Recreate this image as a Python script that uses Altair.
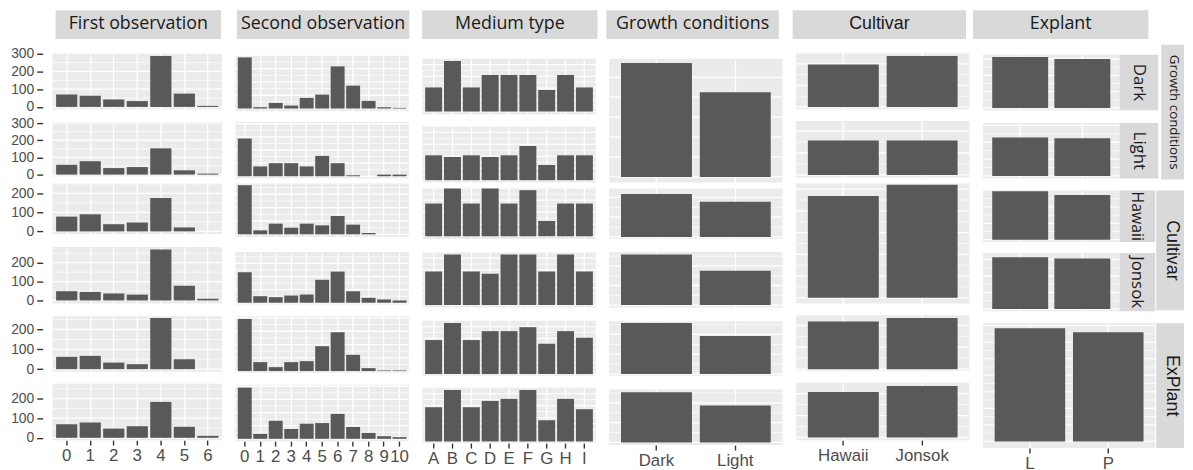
import altair as alt
import pandas as pd

# ---------------- categories ----------------
first_cats = ["0", "1", "2", "3", "4", "5", "6"]
second_cats = ["0", "1", "2", "3", "4", "5", "6", "7", "8", "9", "10"]
medium_cats = ["A", "B", "C", "D", "E", "F", "G", "H", "I"]
growth_cats = ["Dark", "Light"]
cultivar_cats = ["Hawaii", "Jonsok"]
explant_cats = ["L", "P"]

# ---------------- First observation (counts) ----------------
first_dark = [70, 63, 42, 33, 287, 75, 6]
first_light = [57, 78, 38, 44, 153, 25, 6]
first_hawaii = [78, 90, 38, 47, 176, 21, 0]
first_jonsok = [49, 45, 37, 31, 270, 78, 9]
first_L = [62, 67, 33, 25, 258, 50, 0]
first_P = [69, 78, 47, 59, 183, 56, 10]

# ---------------- Second observation ----------------
second_dark = [154, 4, 17, 9, 32, 42, 127, 69, 23, 4, 2]
second_light = [115, 30, 40, 40, 30, 62, 40, 3, 0, 5, 5]
second_hawaii = [147, 12, 32, 20, 32, 27, 55, 29, 4, 0, 0]
second_jonsok = [93, 20, 17, 22, 25, 70, 95, 35, 15, 10, 7]
second_L = [157, 27, 12, 27, 30, 75, 117, 49, 9, 2, 2]
second_P = [156, 15, 55, 30, 46, 48, 76, 36, 18, 8, 5]

# ---------------- Medium type ----------------
medium_dark = [74, 155, 74, 112, 112, 112, 66, 112, 74]
medium_light = [75, 70, 75, 70, 75, 103, 46, 75, 75]
medium_hawaii = [98, 143, 98, 143, 98, 138, 46, 98, 98]
medium_jonsok = [103, 155, 103, 96, 155, 155, 103, 155, 103]
medium_L = [103, 155, 103, 130, 130, 142, 92, 130, 110]
medium_P = [103, 155, 103, 122, 128, 155, 64, 128, 97]

# ---------------- Growth conditions ----------------
growth_darklight = [343, 255]
growth_hawaii = [130, 107]
growth_jonsok = [155, 105]
growth_L = [155, 115]
growth_P = [152, 112]

# ---------------- Cultivar ----------------
cultivar_dark = [130, 156]
cultivar_light = [104, 104]
cultivar_hawaiijonsok = [309, 343]
cultivar_L = [143, 154]
cultivar_P = [137, 155]

# ---------------- Explant ----------------
explant_dark = [156, 150]
explant_light = [114, 112]
explant_hawaii = [148, 136]
explant_jonsok = [157, 153]
explant_LP = [342, 330]

# ---------------- texts ----------------
header_labels = ["First observation", "Second observation", "Medium type",
                 "Growth conditions", "Cultivar", "Explant"]

BAR = "#595959"
PANEL = "#EBEBEB"
STRIP = "#D9D9D9"
TXT = "#1a1a1a"
AX = "#4d4d4d"
X0 = 52.35       # page x of the first panel's left edge
BODY_TOP = 43    # page y where the body starts


def grid_values(top, step):
    out = []
    k = 0
    while k * step <= top + 1e-9:
        out.append((k * step, k % 2 == 0))
        k += 1
    return out


def panel(cats, vals, w, h, domain, step, alternate=True, bottom=False, yticks=None):
    df = pd.DataFrame({"cat": cats, "v": vals})
    ysc = alt.Scale(domain=list(domain), nice=False, zero=False)
    gv = grid_values(domain[1] - 1, step)
    major = [g for g, m in gv if m or not alternate]
    minor = [g for g, m in gv if alternate and not m]
    if yticks:
        yaxis = alt.Axis(
            values=yticks, title=None, grid=False, domain=False, offset=10,
            tickSize=6, tickColor="#333333", tickWidth=1.4, labelFontSize=14,
            labelFont="Liberation Sans", labelColor=AX, labelPadding=3,
        )
    else:
        yaxis = None
    layers = []
    if minor:
        layers.append(
            alt.Chart(pd.DataFrame({"g": minor}))
            .mark_rule(color="white", strokeWidth=0.7)
            .encode(y=alt.Y("g:Q", scale=ysc, axis=yaxis))
        )
    layers.append(
        alt.Chart(pd.DataFrame({"g": major}))
        .mark_rule(color="white", strokeWidth=1.3)
        .encode(y=alt.Y("g:Q", scale=ysc, axis=yaxis))
    )
    xaxis = alt.Axis(
        title=None, labels=bottom, ticks=bottom, domain=False, grid=True,
        gridColor="white", gridWidth=1.3, bandPosition=0.5, labelAngle=0,
        labelFontSize=17, labelFont="Liberation Sans", labelColor=AX,
        labelPadding=2.5, labelOverlap=False, tickColor="#333333", tickSize=5,
        tickWidth=1.4,
    )
    bars = alt.Chart(df).mark_bar(color=BAR).encode(
        x=alt.X("cat:N", sort=cats, axis=xaxis,
                scale=alt.Scale(paddingInner=0.1, paddingOuter=0.15)),
        y=alt.Y("v:Q", scale=ysc, axis=yaxis),
    )
    layers.append(bars)
    return alt.layer(*layers).properties(
        width=w, height=h, view=alt.ViewBackground(fill=PANEL, strokeWidth=0)
    )


def strip(label, w, h, size=18, font="Open Sans", angle=0, tx=None):
    df = pd.DataFrame({"t": [label]})
    return (
        alt.Chart(df)
        .mark_text(fontSize=size, font=font, color=TXT, angle=angle)
        .encode(text="t:N", x=alt.value(w / 2 if tx is None else tx), y=alt.value(h / 2))
        .properties(width=w, height=h,
                    view=alt.ViewBackground(fill=STRIP, strokeWidth=0))
    )


def spacer(w, h):
    return (
        alt.Chart(pd.DataFrame({"t": [""]}))
        .mark_text()
        .encode(text="t:N")
        .properties(width=w, height=h, view=alt.ViewBackground(strokeWidth=0))
    )


def column(w, items):
    parts = []
    y = BODY_TOP
    for top, ch in items:
        if top - y > 0:
            parts.append(spacer(w, top - y))
        parts.append(ch[0])
        y = ch[1]
    return alt.vconcat(*parts, spacing=0, bounds="flush")


def P(cats, vals, w, top, bottom_y, domain, step, **kw):
    return (top, (panel(cats, vals, w, bottom_y - top, domain, step, **kw), bottom_y))


# ---------------- column 1 : First observation ----------------
W1 = 171
col1 = column(W1, [
    P(first_cats, first_dark, W1, 52, 108, (-13, 300), 50, yticks=[0, 100, 200, 300]),
    P(first_cats, first_light, W1, 121, 176, (-11.5, 305.7), 50, yticks=[0, 100, 200, 300]),
    P(first_cats, first_hawaii, W1, 183, 234, (-13.9, 252), 50, yticks=[0, 100, 200]),
    P(first_cats, first_jonsok, W1, 247, 304, (-15.7, 283.5), 50, yticks=[0, 100, 200]),
    P(first_cats, first_L, W1, 317, 373, (-13.3, 266.7), 50, yticks=[0, 100, 200]),
    P(first_cats, first_P, W1, 385, 442, (-11.9, 276), 50, yticks=[0, 100, 200], bottom=True),
])

# ---------------- column 2 : Second observation ----------------
W = 175
col2 = column(W, [
    P(second_cats, second_dark, W, 53, 110, (-8, 162), 20),
    P(second_cats, second_light, W, 121, 178, (-7, 165), 20),
    P(second_cats, second_hawaii, W, 183, 237, (-8, 152), 20),
    P(second_cats, second_jonsok, W, 252, 305, (-5, 155), 20),
    P(second_cats, second_L, W, 317, 374, (-5, 165), 20),
    P(second_cats, second_P, W, 386, 443, (-7, 165), 20, bottom=True),
])

# ---------------- column 3 : Medium type ----------------
col3 = column(W, [
    P(medium_cats, medium_dark, W, 57, 113, (-8, 162), 18),
    P(medium_cats, medium_light, W, 125, 182, (-7, 163), 18),
    P(medium_cats, medium_hawaii, W, 187, 239, (-8, 146), 18),
    P(medium_cats, medium_jonsok, W, 252, 308, (-7, 163), 18),
    P(medium_cats, medium_L, W, 321, 377, (-5, 163), 18),
    P(medium_cats, medium_P, W, 389, 445, (-5, 162), 18, bottom=True),
])

# ---------------- column 4 : Growth conditions ----------------
col4 = column(W, [
    P(growth_cats, growth_darklight, W, 57, 182, (-17, 356), 60, alternate=False),
    P(growth_cats, growth_hawaii, W, 188, 239, (-6, 147), 30),
    P(growth_cats, growth_jonsok, W, 252, 308, (-7, 163), 30),
    P(growth_cats, growth_L, W, 322, 377, (-5, 160), 30),
    P(growth_cats, growth_P, W, 391, 447, (-8, 160), 30, bottom=True),
])

# ---------------- column 5 : Cultivar ----------------
col5 = column(W, [
    P(cultivar_cats, cultivar_dark, W, 51, 108, (-7, 166), 33),
    P(cultivar_cats, cultivar_light, W, 120, 177, (-8, 162), 33),
    P(cultivar_cats, cultivar_hawaiijonsok, W, 183, 304, (-17, 347), 33),
    P(cultivar_cats, cultivar_L, W, 316, 372, (-5, 162), 33),
    P(cultivar_cats, cultivar_P, W, 384, 442, (-8, 165), 33, bottom=True),
])

# ---------------- column 6 : Explant + row strips ----------------
W6 = 138
blockA_left = alt.vconcat(
    spacer(177, 52 - 43),
    alt.hconcat(panel(explant_cats, explant_dark, W6, 56, (-7, 163), 25),
                strip("Dark", 39, 56, size=17, angle=90), spacing=0, bounds="flush"),
    spacer(177, 121 - 108),
    alt.hconcat(panel(explant_cats, explant_light, W6, 56, (-8, 157), 25),
                strip("Light", 39, 56, size=17, angle=90), spacing=0, bounds="flush"),
    spacing=0,
)
blockA = alt.hconcat(blockA_left,
                     strip("Growth conditions", 23, 136, size=13.5, angle=90, tx=13),
                     spacing=3)
blockB_left = alt.vconcat(
    alt.hconcat(panel(explant_cats, explant_hawaii, W6, 52, (-7, 150), 25),
                strip("Hawaii", 36, 52, size=16, angle=90), spacing=0, bounds="flush"),
    spacer(174, 245 - 235),
    alt.hconcat(panel(explant_cats, explant_jonsok, W6, 59, (-7, 170), 25),
                strip("Jonsok", 36, 59, size=17, angle=90), spacing=0, bounds="flush"),
    spacing=0,
)
blockB = alt.hconcat(blockB_left,
                     strip("Cultivar", 28, 121, size=18, font="Liberation Sans", angle=90, tx=16),
                     spacing=1)
blockC = alt.hconcat(panel(explant_cats, explant_LP, 174, 126, (-20, 357), 25, bottom=True),
                     strip("ExPlant", 28, 126, size=18, font="Liberation Sans", angle=90, tx=16),
                     spacing=1, bounds="flush")
col6 = alt.vconcat(blockA, spacer(204, 183 - 179), blockB, spacer(204, 316 - 304), blockC,
                   spacing=0)

# ---------------- header strips ----------------
header_pos = [(55, 222), (238, 412), (425, 602), (611, 785), (799, 974), (981, 1158)]
header_fonts = ["Open Sans", "Open Sans", "Open Sans", "Open Sans", "Liberation Sans", "Open Sans"]
hparts = []
xcur = X0
for (xa, xb), lab, fnt in zip(header_pos, header_labels, header_fonts):
    if xa - xcur > 0:
        hparts.append(spacer(xa - xcur, 29))
    hparts.append(strip(lab, xb - xa, 29, size=18, font=fnt))
    xcur = xb
headers = alt.hconcat(*hparts, spacing=0, bounds="flush")

body = alt.hconcat(col1, col2, col3, col4, col5, col6, spacing=11.6)

chart = (
    alt.vconcat(headers, body, spacing=BODY_TOP - 39)
    .properties(padding={"left": 2, "top": 0, "right": 0, "bottom": 0},
                background="white")
    .configure_view(strokeWidth=0)
)

chart.save("out.html", embed_options={"renderer": "svg", "actions": False})
